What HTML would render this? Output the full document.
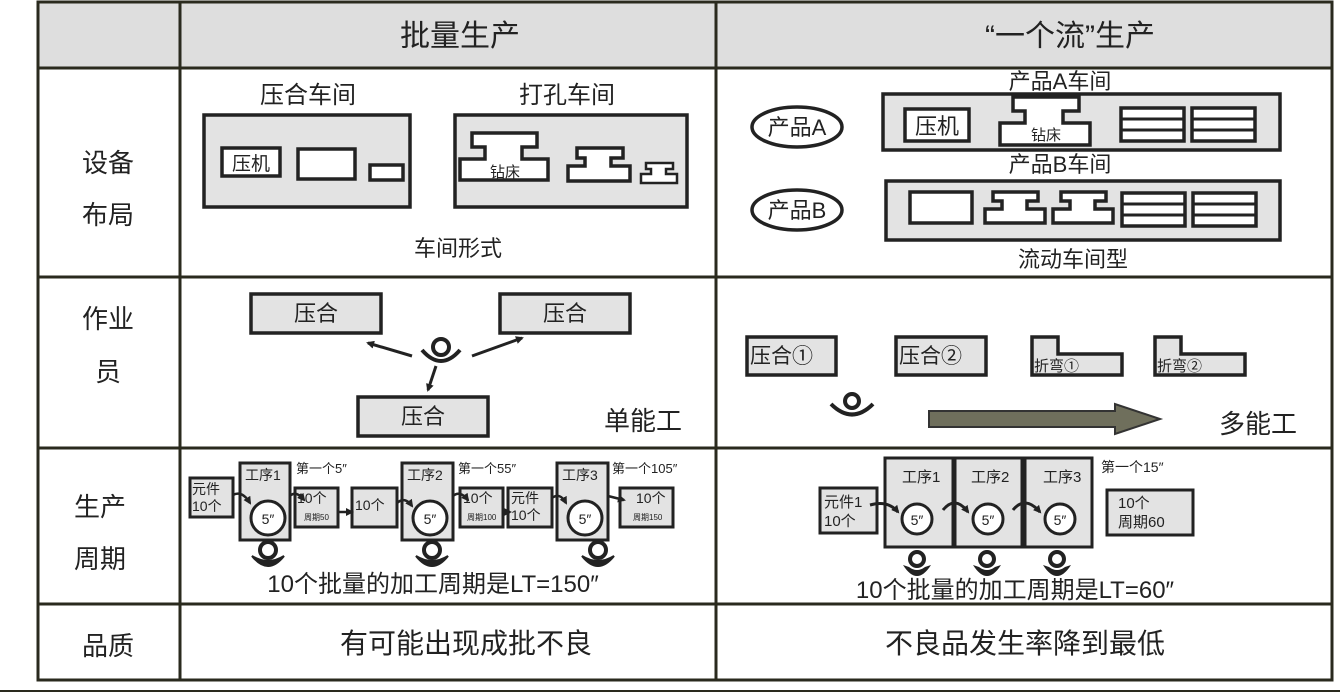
<!DOCTYPE html>
<html><head><meta charset="utf-8"><style>
html,body{margin:0;padding:0;background:#fff}
svg{display:block}
text{font-family:"Liberation Sans","Noto Sans CJK SC",sans-serif;fill:#222}
</style></head><body>
<svg width="1340" height="697" viewBox="0 0 1340 697" xmlns="http://www.w3.org/2000/svg">
<defs>
<marker id="ah" markerWidth="8" markerHeight="8" refX="6" refY="4" orient="auto" markerUnits="userSpaceOnUse"><path d="M0,0 L8,4 L0,8 Z" fill="#222"/></marker>
<g id="per"><circle cx="0" cy="0" r="8" fill="#fff" stroke="#222" stroke-width="4"/><path d="M-16,6 Q0,26 16,6 Q0,16 -16,6 Z" fill="#222" stroke="#222" stroke-width="2"/></g>
<g id="per2"><circle cx="0" cy="-4" r="7" fill="#fff" stroke="#222" stroke-width="4"/><path d="M-14,2 Q0,24 14,2 L8,4 Q0,10 -8,4 Z" fill="#222"/></g>
<g id="lad"><rect x="0" y="0" width="63" height="33" fill="#fff" stroke="#222" stroke-width="3.5"/><line x1="0" y1="11" x2="63" y2="11" stroke="#222" stroke-width="3"/><line x1="0" y1="22" x2="63" y2="22" stroke="#222" stroke-width="3"/></g>
</defs>
<!-- table -->
<rect x="38" y="2" width="1294" height="66" fill="#dedede"/>
<rect x="38" y="2" width="1294" height="678" fill="none" stroke="#2a2a1e" stroke-width="3"/>
<g stroke="#2a2a1e" stroke-width="3">
<line x1="180" y1="2" x2="180" y2="680"/><line x1="716" y1="2" x2="716" y2="680"/>
<line x1="38" y1="68" x2="1332" y2="68"/><line x1="38" y1="277" x2="1332" y2="277"/>
<line x1="38" y1="448" x2="1332" y2="448"/><line x1="38" y1="604" x2="1332" y2="604"/>
<line x1="0" y1="691" x2="1340" y2="691" stroke-width="2"/>
</g>
<g font-size="30" text-anchor="middle">
<text x="460" y="46">批量生产</text><text x="1070" y="46">“一个流”生产</text></g>
<g font-size="26" text-anchor="middle">
<text x="108" y="172">设备</text><text x="108" y="224">布局</text>
<text x="108" y="328">作业</text><text x="108" y="381">员</text>
<text x="100" y="516">生产</text><text x="100" y="568">周期</text>
<text x="108" y="655">品质</text></g>

<!-- layout left -->
<g font-size="24" text-anchor="middle"><text x="308" y="103">压合车间</text><text x="567" y="103">打孔车间</text></g>
<g stroke="#222" stroke-width="3.5">
<rect x="204" y="115" width="206" height="92" fill="#e3e3e3"/>
<rect x="222" y="148" width="58" height="28" fill="#fff"/>
<rect x="298" y="149" width="57" height="30" fill="#fff"/>
<rect x="370" y="165" width="33" height="15" fill="#fff"/>
<rect x="455" y="115" width="232" height="92" fill="#e3e3e3"/>
<polygon points="472,133 537,133 537,147 522,147 522,159 548,159 548,180 460,180 460,159 485,159 485,147 472,147" fill="#fff"/>
<polygon points="577,148 623,148 623,158 611,158 611,166 630,166 630,181 568,181 568,166 585,166 585,158 577,158" fill="#fff"/>
<polygon points="646,163 673,163 673,169 666,169 666,174 677,174 677,183 641,183 641,174 651,174 651,169 646,169" fill="#fff" stroke-width="2.5"/>
</g>
<text x="251" y="170" font-size="19" text-anchor="middle">压机</text>
<text x="505" y="177" font-size="15" text-anchor="middle">钻床</text>
<text x="458" y="256" font-size="22" text-anchor="middle">车间形式</text>

<!-- layout right -->
<g font-size="22" text-anchor="middle"><text x="1060" y="89">产品A车间</text><text x="1060" y="172">产品B车间</text><text x="1073" y="267">流动车间型</text></g>
<g stroke="#222" stroke-width="3.5">
<ellipse cx="797" cy="127" rx="45" ry="20" fill="#fff"/>
<ellipse cx="797" cy="210" rx="45" ry="20" fill="#fff"/>
<rect x="883" y="94" width="397" height="56" fill="#e3e3e3"/>
<rect x="905" y="109" width="64" height="32" fill="#fff"/>
<polygon points="1013,97 1079,97 1079,111 1063,111 1063,123 1090,123 1090,145 1000,145 1000,123 1025,123 1025,111 1013,111" fill="#fff"/>
<rect x="886" y="181" width="394" height="59" fill="#e3e3e3"/>
<rect x="910" y="192" width="62" height="31" fill="#fff"/>
<polygon points="993,192 1038,192 1038,201 1027,201 1027,209 1045,209 1045,223 985,223 985,209 1002,209 1002,201 993,201" fill="#fff"/>
<polygon points="1061,192 1106,192 1106,201 1095,201 1095,209 1113,209 1113,223 1053,223 1053,209 1070,209 1070,201 1061,201" fill="#fff"/>
</g>
<use href="#lad" x="1121" y="108"/><use href="#lad" x="1192" y="108"/>
<use href="#lad" x="1122" y="193"/><use href="#lad" x="1193" y="193"/>
<g font-size="22" text-anchor="middle"><text x="797" y="135">产品A</text><text x="797" y="218">产品B</text><text x="937" y="134">压机</text></g>
<text x="1046" y="140" font-size="15" text-anchor="middle">钻床</text>

<!-- operators left -->
<g stroke="#222" stroke-width="3.5" fill="#e3e3e3">
<rect x="251" y="294" width="130" height="39"/><rect x="500" y="294" width="130" height="39"/><rect x="358" y="397" width="130" height="39"/>
</g>
<g font-size="22" text-anchor="middle"><text x="316" y="321">压合</text><text x="565" y="321">压合</text><text x="423" y="424">压合</text></g>
<g stroke="#222" stroke-width="3" fill="none" marker-end="url(#ah)">
<line x1="412" y1="356" x2="368" y2="343"/><line x1="472" y1="356" x2="522" y2="338"/><line x1="436" y1="366" x2="428" y2="390"/>
</g>
<circle cx="441" cy="347" r="8" fill="#fff" stroke="#222" stroke-width="4"/>
<path d="M422,350 Q441,372 460,350" fill="none" stroke="#222" stroke-width="4"/>
<text x="643" y="430" font-size="26" text-anchor="middle">单能工</text>

<!-- operators right -->
<g stroke="#222" stroke-width="3.5" fill="#e3e3e3">
<rect x="747" y="337" width="89" height="38"/><rect x="896" y="337" width="90" height="38"/>
<polygon points="1032,337 1058,337 1058,354 1122,354 1122,375 1032,375"/>
<polygon points="1155,337 1181,337 1181,354 1245,354 1245,375 1155,375"/>
</g>
<g font-size="21"><text x="750" y="363">压合①</text><text x="899" y="363">压合②</text></g>
<g font-size="15"><text x="1034" y="371">折弯①</text><text x="1157" y="371">折弯②</text></g>
<circle cx="852" cy="401" r="7" fill="#fff" stroke="#222" stroke-width="4"/>
<path d="M831,404 Q852,425 873,404" fill="none" stroke="#222" stroke-width="4"/>
<polygon points="929,411 1115,411 1115,404 1160,419 1115,434 1115,427 929,427" fill="#6f6f5c" stroke="#333" stroke-width="2"/>
<text x="1258" y="433" font-size="26" text-anchor="middle">多能工</text>

<!-- production left -->
<g stroke="#222" stroke-width="3" fill="#e3e3e3">
<rect x="190" y="478" width="43" height="39"/>
<rect x="240" y="463" width="50" height="77"/>
<rect x="295" y="488" width="43" height="39"/>
<rect x="352" y="488" width="45" height="39"/>
<rect x="402" y="463" width="51" height="77"/>
<rect x="460" y="488" width="43" height="39"/>
<rect x="508" y="488" width="44" height="39"/>
<rect x="557" y="463" width="51" height="77"/>
<rect x="620" y="488" width="53" height="39"/>
</g>
<g stroke="#222" stroke-width="3" fill="#fff">
<circle cx="268" cy="518" r="17"/><circle cx="430" cy="518" r="17"/><circle cx="585" cy="518" r="17"/>
</g>
<g font-size="14" text-anchor="middle"><text x="268" y="524">5″</text><text x="430" y="524">5″</text><text x="585" y="524">5″</text></g>
<g font-size="14">
<text x="192" y="494">元件</text><text x="192" y="511">10个</text>
<text x="245" y="480">工序1</text><text x="407" y="480">工序2</text><text x="562" y="480">工序3</text>
<text x="297" y="503">10个</text><text x="355" y="510">10个</text>
<text x="463" y="503">10个</text><text x="511" y="503">元件</text><text x="511" y="520">10个</text>
<text x="636" y="503">10个</text>
<text x="296" y="473" font-size="13">第一个5″</text><text x="458" y="473" font-size="13">第一个55″</text><text x="612" y="473" font-size="13">第一个105″</text>
</g>
<g font-size="8"><text x="304" y="520">周期50</text><text x="467" y="520">周期100</text><text x="633" y="520">周期150</text></g>
<g stroke="#222" stroke-width="2.5" fill="none" marker-end="url(#ah)">
<path d="M233,495 Q242,490 250,503"/><path d="M290,496 Q296,490 304,500"/><path d="M338,512 L352,512"/>
<path d="M397,503 Q405,496 412,506"/><path d="M453,496 Q460,490 468,500"/><path d="M503,512 L510,512"/><path d="M552,498 Q560,492 566,503"/><path d="M608,496 L624,500"/>
</g>
<use href="#per" x="268" y="550"/><use href="#per" x="432" y="550"/><use href="#per" x="598" y="550"/>
<text x="433" y="592" font-size="24" text-anchor="middle">10个批量的加工周期是LT=150″</text>

<!-- production right -->
<g stroke="#222" stroke-width="3" fill="#e3e3e3">
<rect x="820" y="488" width="57" height="45"/>
<rect x="885" y="458" width="68" height="89"/><rect x="955" y="458" width="67" height="89"/><rect x="1025" y="458" width="67" height="89"/>
<rect x="1107" y="490" width="86" height="45"/>
</g>
<g stroke="#222" stroke-width="3" fill="#fff">
<circle cx="917" cy="519" r="15"/><circle cx="988" cy="519" r="15"/><circle cx="1060" cy="519" r="15"/>
</g>
<g font-size="14" text-anchor="middle"><text x="917" y="525">5″</text><text x="988" y="525">5″</text><text x="1060" y="525">5″</text></g>
<g font-size="15"><text x="902" y="482">工序1</text><text x="971" y="482">工序2</text><text x="1043" y="482">工序3</text>
<text x="824" y="507">元件1</text><text x="824" y="526">10个</text>
<text x="1118" y="508">10个</text><text x="1118" y="527">周期60</text>
<text x="1101" y="472" font-size="14">第一个15″</text></g>
<g stroke="#222" stroke-width="3" fill="none" marker-end="url(#ah)">
<path d="M870,505 Q888,500 898,512"/><path d="M943,510 Q955,495 968,512"/><path d="M1013,510 Q1025,495 1040,512"/>
</g>
<use href="#per2" x="917" y="563"/><use href="#per2" x="987" y="563"/><use href="#per2" x="1057" y="563"/>
<text x="1015" y="598" font-size="24" text-anchor="middle">10个批量的加工周期是LT=60″</text>

<!-- quality -->
<g font-size="28" text-anchor="middle"><text x="466" y="653">有可能出现成批不良</text><text x="1025" y="653">不良品发生率降到最低</text></g>
</svg>
</body></html>
